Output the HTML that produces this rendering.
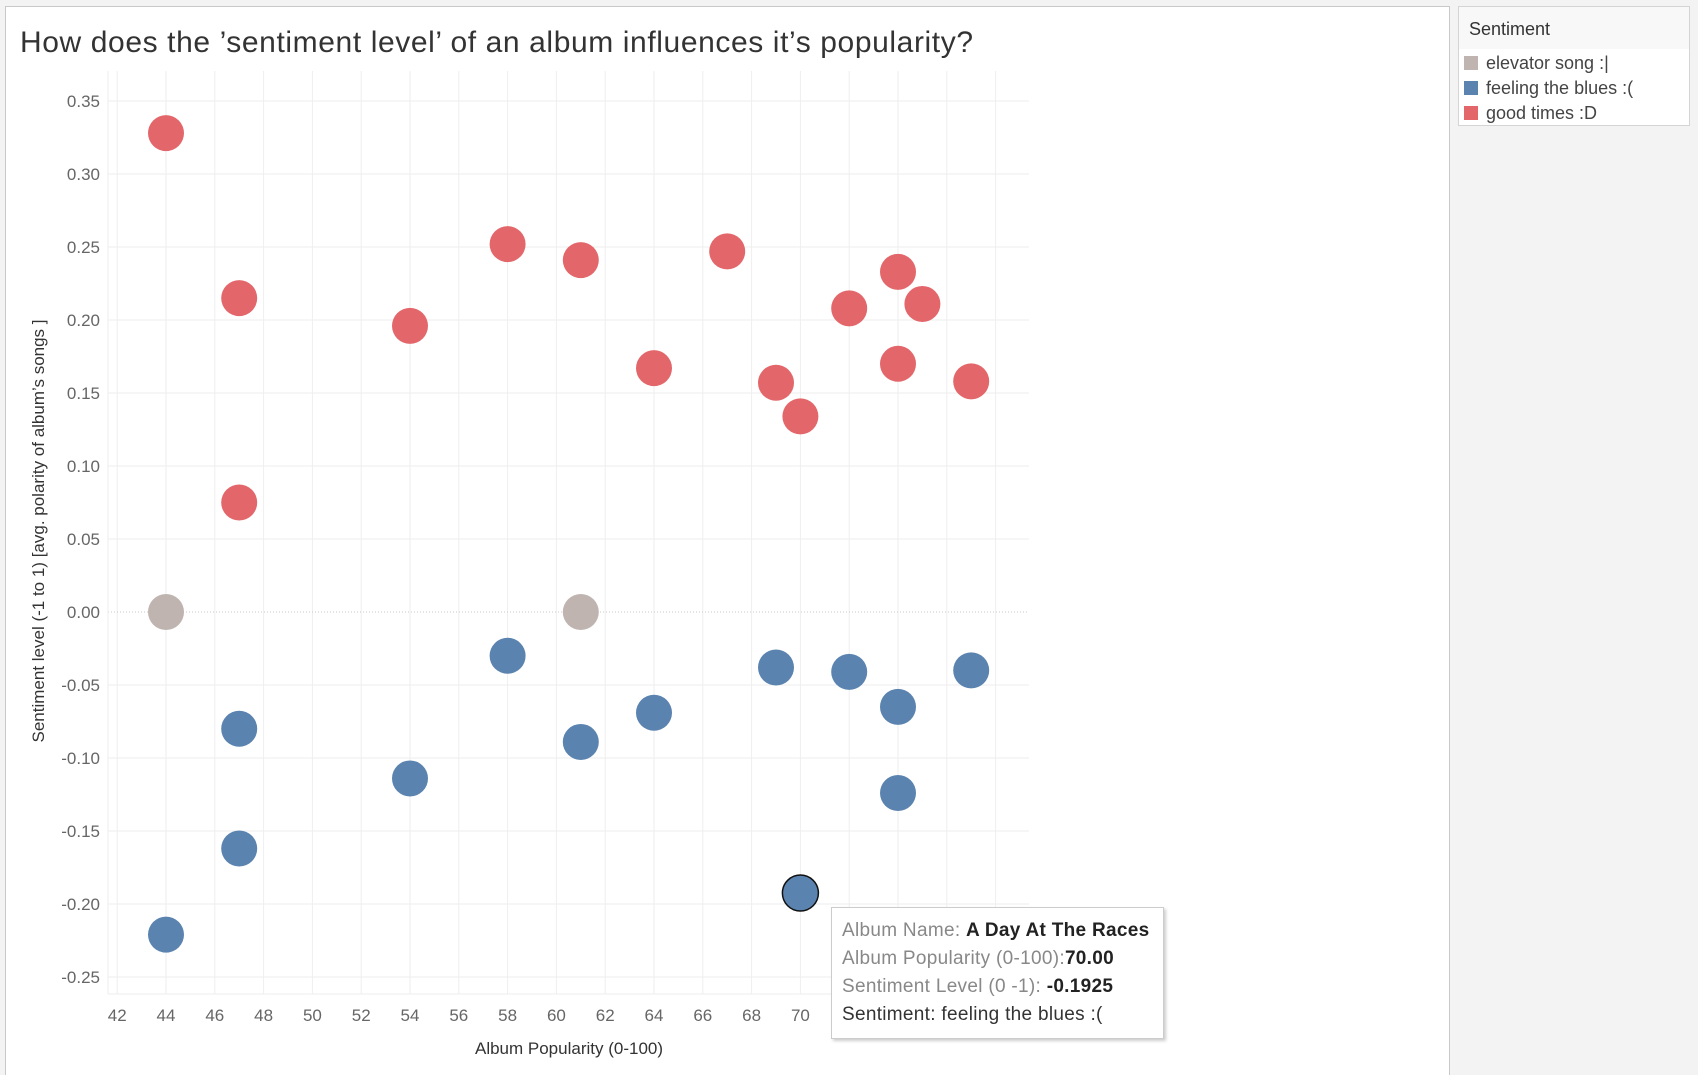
<!DOCTYPE html>
<html><head><meta charset="utf-8"><style>
html,body{margin:0;width:1698px;height:1075px;overflow:hidden}
body{background:#f3f3f3;font-family:"Liberation Sans",sans-serif;position:relative}
#panel{position:absolute;left:5px;top:6px;width:1443px;height:1069px;background:#fff;border:1px solid #c8c8c8;border-bottom:none}
#title{position:absolute;left:20px;top:26px;font-size:30px;letter-spacing:0.6px;color:#333;white-space:nowrap}
#legend{position:absolute;left:1458px;top:6px;width:230px;height:118px;background:#fff;border:1px solid #d4d4d4}
#legend .hd{height:42px;background:#f8f8f8;font-size:18px;color:#333;padding:12px 0 0 10px;box-sizing:border-box}
.li{position:absolute;left:5px;font-size:18px;color:#444;white-space:nowrap}
.sw{display:inline-block;width:14px;height:14px;margin-right:8px;vertical-align:-1px}
#tip{position:absolute;left:831px;top:907px;width:333px;height:132px;background:#fff;border:1px solid #ccc;box-shadow:2px 2px 3px rgba(0,0,0,.2);font-size:19px;letter-spacing:0.3px;color:#888;box-sizing:border-box;padding:9px 0 0 10px;line-height:28px}
#tip b{color:#222;font-weight:bold}
svg{position:absolute;left:0;top:0}
</style></head><body>
<div id="panel"></div>
<div id="title">How does the ’sentiment level’ of an album influences it’s popularity?</div>
<svg id="chart" width="1698" height="1075"></svg>
<div id="legend">
<div class="hd">Sentiment</div>
<div class="li" style="top:46px"><span class="sw" style="background:#bfb4b0"></span>elevator song :|</div>
<div class="li" style="top:71px"><span class="sw" style="background:#5b83b0"></span>feeling the blues :(</div>
<div class="li" style="top:96px"><span class="sw" style="background:#e3676a"></span>good times :D</div>
</div>
<div id="tip">
<div>Album Name: <b>A Day At The Races</b></div>
<div>Album Popularity (0-100):<b>70.00</b></div>
<div>Sentiment Level (0 -1): <b>-0.1925</b></div>
<div style="color:#333">Sentiment: feeling the blues :(</div>
</div>
<script>
const xTicks=[42,44,46,48,50,52,54,56,58,60,62,64,66,68,70];
const xGrid=[42,44,46,48,50,52,54,56,58,60,62,64,66,68,70,72,74,76,78];
const yTicks=[0.35,0.30,0.25,0.20,0.15,0.10,0.05,0.00,-0.05,-0.10,-0.15,-0.20,-0.25];
const goodX=[44,47,47,54,58,61,64,67,69,70,72,74,75,74,77];
const goodY=[0.328,0.215,0.075,0.196,0.252,0.241,0.167,0.247,0.157,0.134,0.208,0.233,0.211,0.170,0.158];
const neutralX=[44,61];
const neutralY=[0,0];
const bluesX=[44,47,47,54,58,61,64,69,72,74,74,77,70];
const bluesY=[-0.221,-0.08,-0.162,-0.114,-0.03,-0.089,-0.069,-0.038,-0.041,-0.065,-0.124,-0.04,-0.1925];
const NS="http://www.w3.org/2000/svg";
const svg=document.getElementById('chart');
const X=v=>166+(v-44)*24.4;
const Y=v=>904-(v+0.2)*1460;
function mk(t,a){const e=document.createElementNS(NS,t);for(const k in a)e.setAttribute(k,a[k]);svg.appendChild(e);return e;}
const L=108,R=1029,T=71,B=994;
xGrid.forEach(v=>{const e=mk('line',{x1:X(v),x2:X(v),y1:T,y2:B,stroke:'#eeeeee'});

});
yTicks.forEach(v=>{const z=Math.abs(v)<1e-9;const e=mk('line',{x1:L,x2:R,y1:Y(v),y2:Y(v),stroke:z?'#c8c8c8':'#eeeeee','stroke-dasharray':z?'1,2':'none'});


const t=mk('text',{x:100,y:Y(v)+6,'text-anchor':'end','font-size':17,fill:'#666'});t.textContent=v.toFixed(2);

});
xTicks.forEach(v=>{const t=mk('text',{x:X(v),y:1021,'text-anchor':'middle','font-size':17,fill:'#666'});t.textContent=v;

});
mk('line',{x1:L,x2:L,y1:T,y2:B,stroke:'#eee'});
mk('line',{x1:L,x2:R,y1:B,y2:B,stroke:'#eee'});
const xt=mk('text',{x:569,y:1054,'text-anchor':'middle','font-size':17,fill:'#333'});xt.textContent='Album Popularity (0-100)';


const yt=mk('text',{x:0,y:0,'text-anchor':'middle','font-size':17,fill:'#333',transform:'translate(44,531) rotate(-90)'});yt.textContent='Sentiment level (-1 to 1) [avg. polarity of album’s songs ]';


function pts(xs,ys,col,name){xs.forEach((x,i)=>{const c=mk('circle',{cx:X(x),cy:Y(ys[i]),r:18,fill:col});

});}
pts(goodX,goodY,'#e3676a','point-good-times');
pts(neutralX,neutralY,'#bfb4b0','point-elevator-song');
pts(bluesX,bluesY,'#5b83b0','point-feeling-blues');
const sel=mk('circle',{cx:X(70),cy:Y(-0.1925),r:18,fill:'none',stroke:'#111','stroke-width':1.5});


</script>
</body></html>
